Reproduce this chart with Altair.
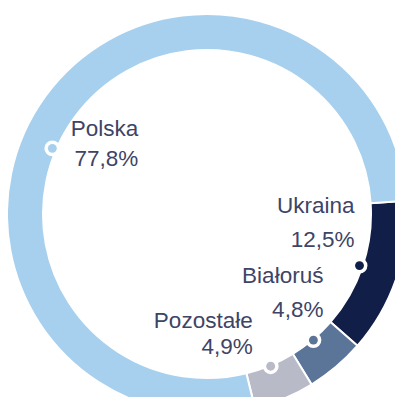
import math
import altair as alt
import pandas as pd

# ---- data ----
categories = ["Ukraina", "Białoruś", "Pozostałe", "Polska"]
shares = [12.5, 4.8, 4.9, 77.8]
colors = ["#111E48", "#5B7598", "#B9BAC8", "#A7D0EE"]

# ---- layout (not data) ----
W, H = 387, 389
CX, CY = 199, 206
R_IN, R_OUT = 164, 200
START = math.radians(86.2)
# marker position within segment (fraction) and radius; label right edge / baselines relative to marker
LABEL_LAYOUT = {
    "Ukraina":   dict(frac=0.5,   r=161, dx=-5,  dy1=-53, dy2=-19),
    "Białoruś":  dict(frac=0.5,   r=165, dx=10,  dy1=-57, dy2=-23),
    "Pozostałe": dict(frac=0.5,   r=165, dx=-18, dy1=-38, dy2=-12),
    "Polska":    dict(frac=0.453, r=168, dx=86,  dy1=-12, dy2=18),
}
TEXT_COLOR = "#3E4466"
FONT = "Liberation Sans"
FONT_SIZE = 22.5

df = pd.DataFrame({
    "cat": categories,
    "value": shares,
    "order": list(range(len(categories))),
    "pct": [f"{v:.1f}".replace(".", ",") + "%" for v in shares],
    "frac": [LABEL_LAYOUT[c]["frac"] for c in categories],
    "mr": [LABEL_LAYOUT[c]["r"] for c in categories],
    "ldx": [LABEL_LAYOUT[c]["dx"] for c in categories],
    "ldy1": [LABEL_LAYOUT[c]["dy1"] for c in categories],
    "ldy2": [LABEL_LAYOUT[c]["dy2"] for c in categories],
})

color_scale = alt.Scale(domain=categories, range=colors)

base = (
    alt.Chart(df)
    .transform_joinaggregate(total="sum(value)")
    .transform_window(cum="sum(value)", sort=[alt.SortField("order")], frame=[None, 0])
    .transform_calculate(
        a0=f"{START} + 2*PI*(datum.cum - datum.value)/datum.total",
        a1=f"{START} + 2*PI*datum.cum/datum.total",
    )
    .transform_calculate(am="datum.a0 + (datum.a1 - datum.a0)*datum.frac")
    .transform_calculate(
        mx=f"{CX} + datum.mr*sin(datum.am)",
        my=f"{CY} - datum.mr*cos(datum.am)",
    )
    .transform_calculate(
        lx="datum.mx + datum.ldx",
        ly1="datum.my + datum.ldy1",
        ly2="datum.my + datum.ldy2",
    )
)

arcs = base.mark_arc(innerRadius=R_IN, outerRadius=R_OUT, stroke="white", strokeWidth=2).encode(
    theta=alt.Theta("a0:Q", scale=None),
    theta2=alt.Theta2("a1"),
    color=alt.Color("cat:N", scale=color_scale, legend=None),
    x=alt.value(CX),
    y=alt.value(CY),
)

halo = base.mark_circle(size=254, opacity=1, color="white").encode(
    x=alt.X("mx:Q", scale=None, axis=None),
    y=alt.Y("my:Q", scale=None, axis=None),
)

dots = base.mark_circle(size=79, opacity=1).encode(
    x=alt.X("mx:Q", scale=None, axis=None),
    y=alt.Y("my:Q", scale=None, axis=None),
    color=alt.Color("cat:N", scale=color_scale, legend=None),
)

names = base.mark_text(align="right", baseline="alphabetic", font=FONT, fontSize=FONT_SIZE, color=TEXT_COLOR).encode(
    x=alt.X("lx:Q", scale=None, axis=None),
    y=alt.Y("ly1:Q", scale=None, axis=None),
    text="cat:N",
)

pcts = base.mark_text(align="right", baseline="alphabetic", font=FONT, fontSize=FONT_SIZE, color=TEXT_COLOR).encode(
    x=alt.X("lx:Q", scale=None, axis=None),
    y=alt.Y("ly2:Q", scale=None, axis=None),
    text="pct:N",
)

chart = (
    alt.layer(arcs, halo, dots, names, pcts)
    .properties(width=W, height=H, padding=0, autosize="none", background="white")
    .configure_view(stroke=None)
)

chart.save("out.html", embed_options={"renderer": "svg", "actions": False})
